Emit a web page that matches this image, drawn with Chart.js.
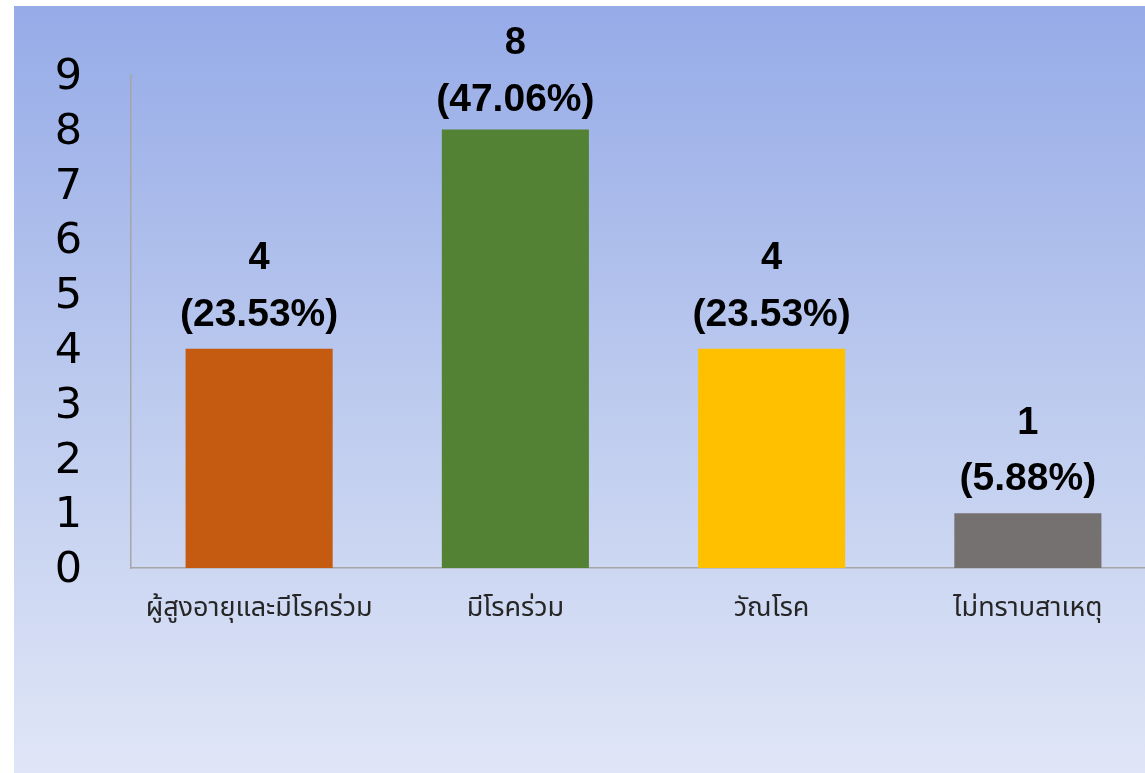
<!DOCTYPE html>
<html>
<head>
<meta charset="utf-8">
<script src="https://cdn.jsdelivr.net/npm/chart.js@4.4.1/dist/chart.umd.min.js"></script>
<style>
html,body{margin:0;padding:0;background:#ffffff;overflow:hidden;}
#wrap{position:relative;width:1145px;height:773px;overflow:hidden;}
</style>
</head>
<body>
<div id="wrap"><canvas id="c" width="1156" height="773"></canvas></div>
<script>
const categories = ["ผู้สูงอายุและมีโรคร่วม", "มีโรคร่วม", "วัณโรค", "ไม่ทราบสาเหตุ"];
const values = [4, 8, 4, 1];
const percentLabels = ["(23.53%)", "(47.06%)", "(23.53%)", "(5.88%)"];
const barColors = ["#C55A11", "#548235", "#FFC000", "#767171"];
const yTicks = [0, 1, 2, 3, 4, 5, 6, 7, 8, 9];

const bgPlugin = {
  id: 'bg',
  beforeDraw(chart) {
    const ctx = chart.ctx;
    ctx.save();
    ctx.fillStyle = '#ffffff';
    ctx.fillRect(0, 0, chart.width, chart.height);
    const g = ctx.createLinearGradient(0, 6, 0, 773);
    g.addColorStop(0, '#96ABE8');
    g.addColorStop(0.5, '#BCCAEE');
    g.addColorStop(1, '#E0E6F7');
    ctx.fillStyle = g;
    ctx.fillRect(14, 6, chart.width - 14, chart.height - 6);
    ctx.restore();
  }
};

const labelPlugin = {
  id: 'vlabels',
  afterDatasetsDraw(chart) {
    const ctx = chart.ctx;
    const meta = chart.getDatasetMeta(0);
    ctx.save();
    ctx.fillStyle = '#000000';
    ctx.textAlign = 'center';
    ctx.textBaseline = 'middle';
    meta.data.forEach((bar, i) => {
      const y1 = Math.max(bar.y - 90, 44);
      ctx.font = 'bold 38px "Liberation Sans", Arial, sans-serif';
      ctx.fillText(String(values[i]), bar.x, y1);
      ctx.font = 'bold 39px "Liberation Sans", Arial, sans-serif';
      ctx.fillText(percentLabels[i], bar.x, y1 + 56);
    });
    ctx.restore();
  }
};

new Chart(document.getElementById('c'), {
  type: 'bar',
  data: {
    labels: categories,
    datasets: [{
      data: values,
      backgroundColor: barColors,
      borderWidth: 0,
      categoryPercentage: 1.0,
      barPercentage: 0.574
    }]
  },
  options: {
    responsive: false,
    animation: false,
    devicePixelRatio: 1,
    layout: { padding: { top: 73, right: 0, bottom: 0, left: 0 } },
    plugins: { legend: { display: false }, tooltip: { enabled: false } },
    scales: {
      x: {
        grid: { display: false, drawTicks: false },
        border: { display: true, color: '#A6A6A6', width: 1.5 },
        ticks: {
          color: '#262626',
          padding: 26,
          font: { family: '"Noto Sans Thai", "Noto Sans", sans-serif', size: 27 },
          maxRotation: 0, autoSkip: false
        },
        afterFit(scale) { scale.height = 205; }
      },
      y: {
        min: 0, max: 9,
        afterBuildTicks(scale) { scale.ticks = yTicks.map(v => ({ value: v })); },
        grid: { display: false, drawTicks: false },
        border: { display: true, color: '#A6A6A6', width: 1.5 },
        ticks: {
          color: '#000000',
          padding: 49,
          labelOffset: 3,
          font: { family: '"DejaVu Sans", sans-serif', size: 43 }
        },
        afterFit(scale) { scale.width = 131; }
      }
    }
  },
  plugins: [bgPlugin, labelPlugin]
});
</script>
</body>
</html>
